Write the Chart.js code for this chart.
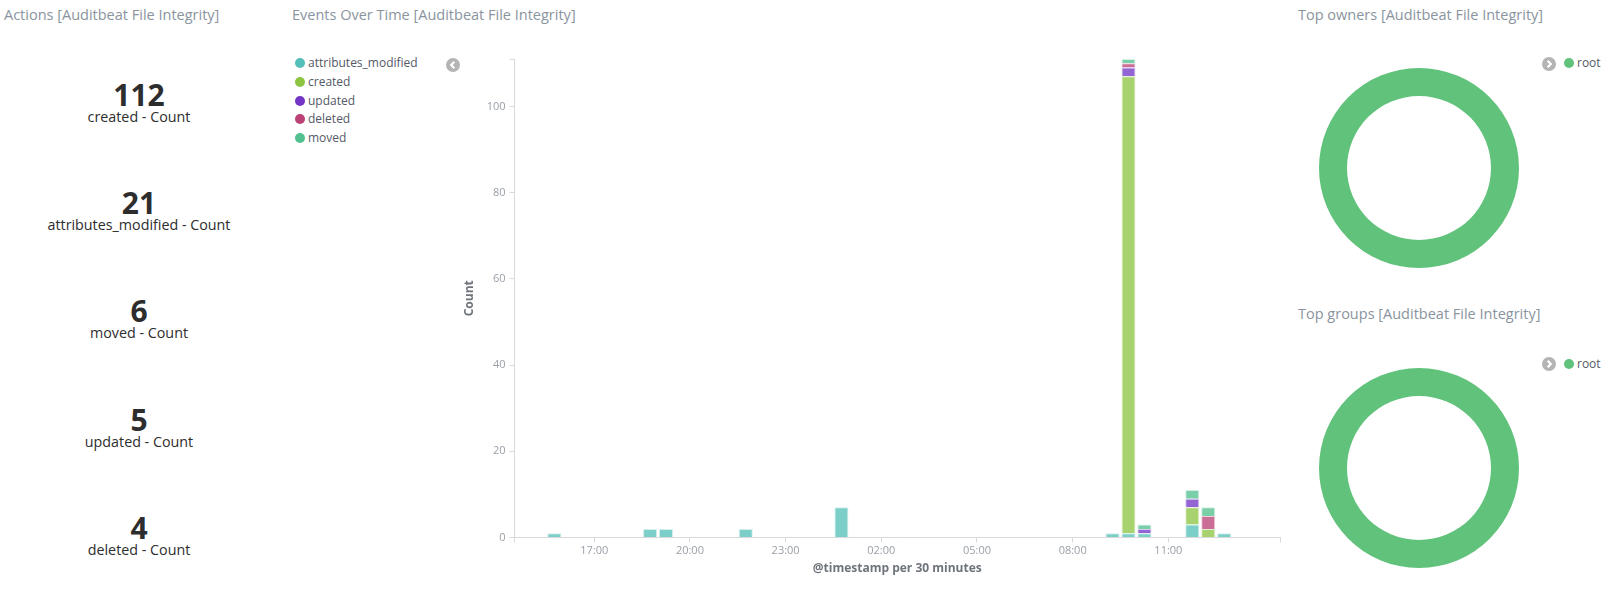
<!DOCTYPE html>
<html>
<head>
<meta charset="utf-8">
<title>Auditbeat File Integrity</title>
<script src="https://cdn.jsdelivr.net/npm/chart.js@4.4.1/dist/chart.umd.min.js"></script>
<style>
    body {
        margin: 0;
        width: 1624px;
        height: 590px;
        background: #fff;
        font-family: "Open Sans", sans-serif;
        position: relative;
        overflow: hidden;
    }
    .panel-title {
        position: absolute;
        font-size: 14.5px;
        line-height: 18px;
        color: #8a949e;
        white-space: nowrap;
    }
    .metric-value {
        position: absolute;
        left: 0;
        width: 278px;
        text-align: center;
        font-size: 30px;
        font-weight: 700;
        line-height: 36px;
        color: #2d2d2d;
    }
    .metric-label {
        position: absolute;
        left: 0;
        width: 278px;
        text-align: center;
        font-size: 14.3px;
        line-height: 18px;
        color: #2d2d2d;
    }
    .legend-row {
        position: absolute;
        height: 18px;
        line-height: 18px;
        font-size: 12px;
        color: #535966;
        white-space: nowrap;
    }
    .legend-dot {
        display: inline-block;
        width: 10px;
        height: 10px;
        border-radius: 50%;
        vertical-align: -1px;
        margin-right: 3px;
    }
    .chevron {
        position: absolute;
        width: 14px;
        height: 14px;
    }
    canvas { position: absolute; }
</style>
</head>
<body>

<div class="panel-title" style="left:4px; top:6px;">Actions [Auditbeat File Integrity]</div>
<div class="panel-title" style="left:292px; top:6px;">Events Over Time [Auditbeat File Integrity]</div>
<div class="panel-title" style="left:1298px; top:6px;">Top owners [Auditbeat File Integrity]</div>
<div class="panel-title" style="left:1298px; top:305px;">Top groups [Auditbeat File Integrity]</div>

<div id="metrics"></div>
<div id="eventsLegend"></div>

<svg class="chevron" style="left:446px; top:58px;" viewBox="0 0 14 14">
    <circle cx="7" cy="7" r="7" fill="#b4b4b4"/>
    <polyline points="8.3,3.8 5.2,7 8.3,10.2" fill="none" stroke="#fff" stroke-width="2.2"/>
</svg>
<svg class="chevron" style="left:1542px; top:57px;" viewBox="0 0 14 14">
    <circle cx="7" cy="7" r="7" fill="#b4b4b4"/>
    <polyline points="5.7,3.8 8.8,7 5.7,10.2" fill="none" stroke="#fff" stroke-width="2.2"/>
</svg>
<svg class="chevron" style="left:1542px; top:357px;" viewBox="0 0 14 14">
    <circle cx="7" cy="7" r="7" fill="#b4b4b4"/>
    <polyline points="5.7,3.8 8.8,7 5.7,10.2" fill="none" stroke="#fff" stroke-width="2.2"/>
</svg>
<div id="ownersLegend"></div>
<div id="groupsLegend"></div>

<canvas id="eventsChart" width="860" height="545" style="left:440px; top:40px;"></canvas>
<canvas id="ownersChart" width="200" height="200" style="left:1319px; top:68px;"></canvas>
<canvas id="groupsChart" width="200" height="200" style="left:1319px; top:368px;"></canvas>

<script>
// Actions metric panel
const actionNames = ['created', 'attributes_modified', 'moved', 'updated', 'deleted'];
const actionCounts = [112, 21, 6, 5, 4];

// Events over time, 30 minute buckets (bucket start times, last 24h from 14:30)
const bucketStarts = ['15:30', '18:30', '19:00', '21:30', '00:30', '09:00', '09:30', '10:00', '11:30', '12:00', '12:30'];
const attributesModified = [1, 2, 2, 2, 7, 1, 1, 1, 3, 0, 1];
const created            = [0, 0, 0, 0, 0, 0, 106, 0, 4, 2, 0];
const updated            = [0, 0, 0, 0, 0, 0, 2, 1, 2, 0, 0];
const deleted            = [0, 0, 0, 0, 0, 0, 1, 0, 0, 3, 0];
const moved              = [0, 0, 0, 0, 0, 0, 1, 1, 2, 2, 0];
const seriesNames = ['attributes_modified', 'created', 'updated', 'deleted', 'moved'];
const xTickLabels = ['17:00', '20:00', '23:00', '02:00', '05:00', '08:00', '11:00'];
const yTickValues = [0, 20, 40, 60, 80, 100];

// Top owners / groups
const ownerNames = ['root'];
const ownerCounts = [148];
const groupNames = ['root'];
const groupCounts = [148];

const seriesColors = ['#54bfb9', '#8dc542', '#7235c6', '#ba4275', '#52c18f'];
const rootColor = '#61c27b';

// the window starts at 14:30 and runs through to 14:30 next day
const rangeStart = 14.5;
const rangeEnd = 38.5;

function toHours(label) {
    const [h, m] = label.split(':').map(Number);
    let hours = h + m / 60;
    if (hours < rangeStart) hours += 24;
    return hours;
}

// metrics
const metricsEl = document.getElementById('metrics');
actionNames.forEach((name, i) => {
    const center = 95 + i * 108.2;
    const value = document.createElement('div');
    value.className = 'metric-value';
    value.style.top = (center - 18) + 'px';
    value.textContent = actionCounts[i];
    const label = document.createElement('div');
    label.className = 'metric-label';
    label.style.top = (center + 13) + 'px';
    label.textContent = name + ' - Count';
    metricsEl.appendChild(value);
    metricsEl.appendChild(label);
});

// html legends
function addLegend(containerId, names, colors, left, top) {
    const el = document.getElementById(containerId);
    names.forEach((name, i) => {
        const row = document.createElement('div');
        row.className = 'legend-row';
        row.style.left = left + 'px';
        row.style.top = (top + i * 18.75) + 'px';
        row.innerHTML = '<span class="legend-dot" style="background:' + colors[i] + '"></span>' + name;
        el.appendChild(row);
    });
}
addLegend('eventsLegend', seriesNames, seriesColors, 295, 54);
addLegend('ownersLegend', ownerNames, [rootColor], 1564, 54);
addLegend('groupsLegend', groupNames, [rootColor], 1564, 355);

// events over time
const seriesValues = [attributesModified, created, updated, deleted, moved];
const datasets = seriesNames.map((name, s) => ({
    label: name,
    data: bucketStarts.map((t, i) => ({
        x: toHours(t) + 0.25,
        y: seriesValues[s][i] || null
    })),
    backgroundColor: seriesColors[s] + 'c4',
    borderColor: seriesColors[s] + '40',
    borderWidth: 1,
    barPercentage: 0.88,
    categoryPercentage: 1
}));

const xTickHours = xTickLabels.map(toHours);
const xTickText = {};
xTickLabels.forEach((t, i) => { xTickText[xTickHours[i]] = t; });

const tickFont = { family: 'Open Sans', size: 11 };
const titleFont = { family: 'Open Sans', size: 12, weight: 'bold' };

new Chart(document.getElementById('eventsChart'), {
    type: 'bar',
    data: { datasets: datasets },
    options: {
        responsive: false,
        animation: false,
        events: [],
        layout: { padding: { left: 0, right: 20, top: 19, bottom: 0 } },
        plugins: {
            legend: { display: false },
            tooltip: { enabled: false }
        },
        scales: {
            x: {
                type: 'linear',
                stacked: true,
                offset: false,
                min: rangeStart,
                max: rangeEnd,
                afterBuildTicks: (scale) => {
                    scale.ticks = [rangeStart].concat(xTickHours, [rangeEnd]).map(v => ({ value: v }));
                },
                afterFit: (scale) => { scale.height = 47.5; },
                ticks: {
                    autoSkip: false,
                    maxRotation: 0,
                    padding: 2,
                    color: '#9aa0a8',
                    font: tickFont,
                    callback: (value) => xTickText[value] || ''
                },
                grid: { offset: false, drawOnChartArea: false, drawTicks: true, tickLength: 5, color: '#d9d9d9' },
                border: { color: '#d9d9d9' },
                title: {
                    display: true,
                    text: '@timestamp per 30 minutes',
                    color: '#6f747c',
                    font: titleFont,
                    padding: { top: 0, bottom: 9 }
                }
            },
            y: {
                stacked: true,
                min: 0,
                max: 111,
                afterBuildTicks: (scale) => {
                    scale.ticks = yTickValues.concat([111]).map(v => ({ value: v }));
                },
                afterFit: (scale) => { scale.width = 74.5; },
                ticks: {
                    padding: 4,
                    color: '#9aa0a8',
                    font: tickFont,
                    callback: (value) => yTickValues.includes(value) ? value : ''
                },
                grid: { drawOnChartArea: false, drawTicks: true, tickLength: 5, color: '#d9d9d9' },
                border: { color: '#d9d9d9' },
                title: {
                    display: true,
                    text: 'Count',
                    color: '#6f747c',
                    font: titleFont,
                    padding: { top: 22, bottom: 0 }
                }
            }
        }
    }
});

// donut charts
function createDonut(elementId, labels, counts) {
    return new Chart(document.getElementById(elementId), {
        type: 'doughnut',
        data: {
            labels: labels,
            datasets: [{
                data: counts,
                backgroundColor: [rootColor],
                borderWidth: 0,
                hoverOffset: 0
            }]
        },
        options: {
            responsive: false,
            animation: false,
            events: [],
            cutout: '72%',
            plugins: {
                legend: { display: false },
                tooltip: { enabled: false }
            }
        }
    });
}

createDonut('ownersChart', ownerNames, ownerCounts);
createDonut('groupsChart', groupNames, groupCounts);
</script>
</body>
</html>
